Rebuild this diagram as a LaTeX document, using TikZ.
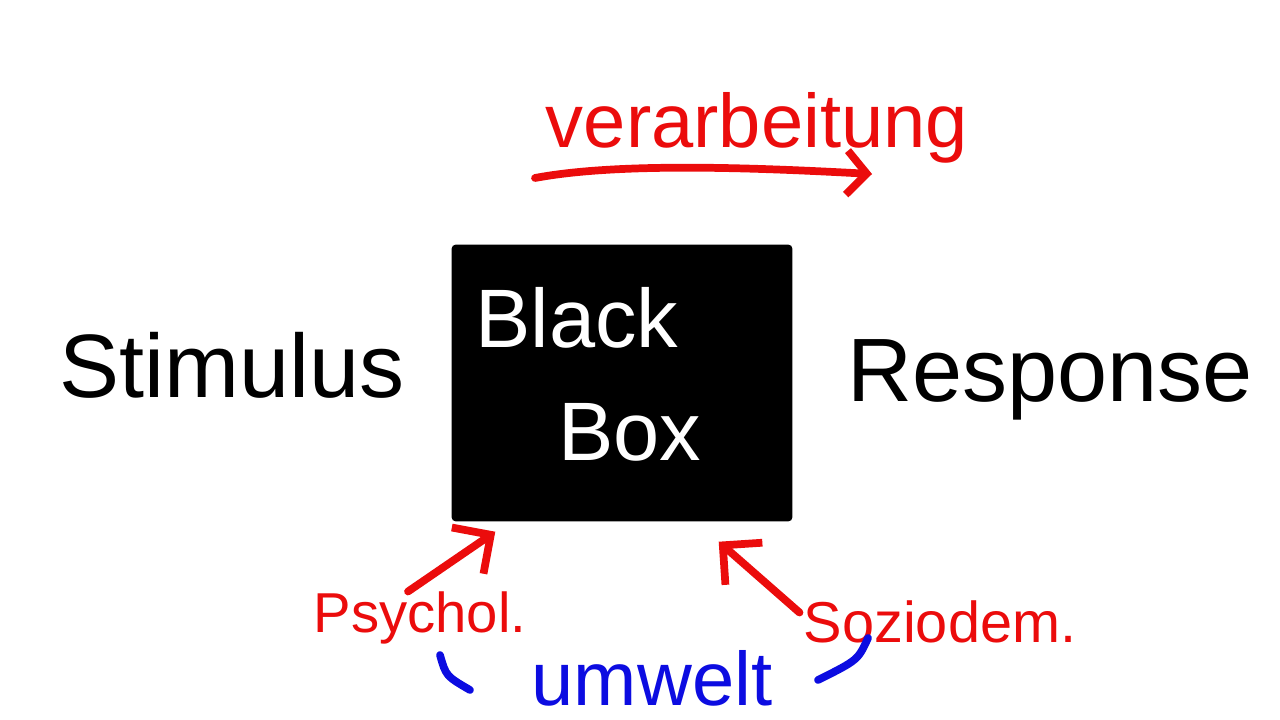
\documentclass[tikz,border=0pt]{standalone}
\usepackage{fontspec}
\setmainfont{Liberation Sans}
\usepackage{tikz}
\usetikzlibrary{arrows.meta, positioning}
\definecolor{penred}{RGB}{235,12,12}
\definecolor{penblue}{RGB}{12,12,225}

\begin{document}
\begin{tikzpicture}[x=0.025cm, y=-0.025cm,
  word/.style={inner sep=0pt, font=\fontsize{64}{70}\selectfont},
  redword/.style={inner sep=0pt, text=penred, font=\fontsize{40}{44}\selectfont},
  blackbox/.style={fill=black, rounded corners=3pt, minimum width=8.52cm, minimum height=6.92cm},
  penline/.style={line width=5.5pt, line cap=round, line join=round},
  redarrow/.style={penline, penred, -{Straight Barb[length=0.7cm, width=1.4cm]}}
]
  % canvas
  \fill[white] (0,0) rectangle (1280,720);
  \useasboundingbox (0,0) rectangle (1280,720);

  % black box in the middle
  \node[blackbox] (box) at (622,383) {};
  \node[word, white, font=\fontsize{59}{64}\selectfont] (black) at (577,318) {Black};
  \node[word, white, font=\fontsize{59}{64}\selectfont] (boxtext) at (630,432) {Box};

  % input and output
  \node[word] (stimulus) at (232,365) {Stimulus};
  \node[word] (response) at (1050,380) {Response};

  % processing on top
  \node[redword, font=\fontsize{54}{60}\selectfont] (verarbeitung) at (757,128) {verarbeitung};
  \coordinate (vstart) at (535,178);
  \coordinate (vend) at (872,174);
  \draw[penline, penred, -{Straight Barb[length=0.5cm, width=1.1cm]}]
    (vstart) .. controls (620,162) and (760,168) .. (vend);

  % influences below
  \node[redword] (psychol) at (420,618) {Psychol.};
  \node[redword, font=\fontsize{41}{46}\selectfont] (soziodem) at (940,622) {Soziodem.};
  \draw[redarrow] ([xshift=-0.3cm]psychol.north) -- ([xshift=1.1cm, yshift=-0.25cm]box.south west);
  \draw[redarrow] ([xshift=-0.1cm, yshift=-0.3cm]soziodem.north west) -- ([xshift=-1.85cm, yshift=-0.5cm]box.south east);

  % environment
  \node[word, text=penblue, font=\fontsize{54}{60}\selectfont] (umwelt) at (652,678) {umwelt};
  \draw[penline, penblue] (440,655) .. controls (446,676) .. (470,690);
  \draw[penline, penblue] (868,638) .. controls (858,660) .. (818,680);
\end{tikzpicture}
\end{document}
